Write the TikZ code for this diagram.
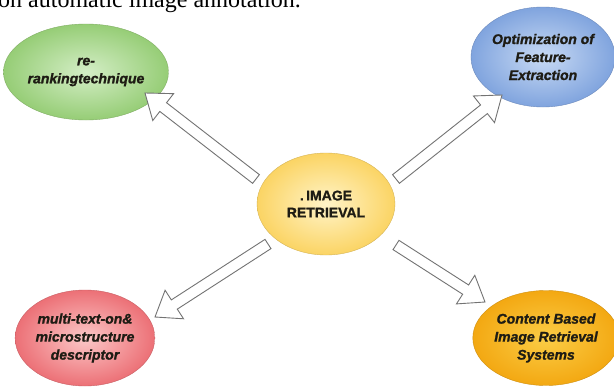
\documentclass[tikz,border=0pt]{standalone}
\usepackage{fontspec}
\setmainfont{Liberation Serif}
\newfontfamily\arialf[BoldFeatures={FakeBold=1.3},BoldItalicFeatures={FakeBold=1.3}]{Liberation Sans}
\usetikzlibrary{calc,shapes.geometric}
\definecolor{txtdark}{RGB}{30,28,20}
\definecolor{arrowgray}{RGB}{115,115,115}
\definecolor{gin}{RGB}{212,238,198}\definecolor{gout}{RGB}{150,205,118}
\definecolor{bin}{RGB}{200,218,244}\definecolor{bout}{RGB}{128,164,222}
\definecolor{yin}{RGB}{255,244,200}\definecolor{yout}{RGB}{251,212,100}
\definecolor{rin}{RGB}{252,200,200}\definecolor{rout}{RGB}{236,112,118}
\definecolor{oin}{RGB}{251,205,70}\definecolor{oout}{RGB}{243,168,18}
\tikzset{
  bubble/.style={ellipse, inner sep=0pt, align=center, text=txtdark,
    font=\arialf\bfseries\itshape\fontsize{14}{18}\selectfont},
  fatarrowline/.style={fill=white, draw=arrowgray, line width=0.9pt, line join=miter},
  toptext/.style={anchor=base west, inner sep=0pt, font=\fontsize{24}{28}\selectfont, text=black}
}
\newcommand\fatarrow[2]{%
  \coordinate (fah) at ($(#2)!23pt!(#1)$);
  \draw[fatarrowline] ($(#1)!5.5pt!90:(#2)$) -- ($(fah)!5.5pt!90:(#2)$)
    -- ($(fah)!17pt!90:(#2)$) -- (#2) -- ($(fah)!17pt!-90:(#2)$)
    -- ($(fah)!5.5pt!-90:(#2)$) -- ($(#1)!5.5pt!-90:(#2)$) -- cycle;}
\begin{document}
\begin{tikzpicture}[x=1pt,y=-1pt]
\useasboundingbox (0,0) rectangle (614,388);
\clip (0,0) rectangle (614,388);
\fill[white] (0,0) rectangle (614,388);
\node[toptext] (top) at (-2,7.5) {on automatic image annotation.};
% nodes
\node[bubble, minimum width=140pt, minimum height=96pt, inner color=gin, outer color=gout, draw=gout!85!black, line width=0.4pt] (g) at (86,72) {re-\\rankingtechnique};
\node[bubble, minimum width=137pt, minimum height=100pt, inner color=bin, outer color=bout, draw=bout!85!black, line width=0.4pt] (b) at (543,57) {Optimization of\\Feature-\\Extraction};
\node[bubble, minimum width=138pt, minimum height=102pt, inner color=yin, outer color=yout, draw=yout!85!black, line width=0.4pt, font=\arialf\bfseries\fontsize{14}{17}\selectfont] (c) at (326,204) {.\,IMAGE\\RETRIEVAL};
\node[bubble, minimum width=139pt, minimum height=96pt, inner color=rin, outer color=rout, draw=rout!85!black, line width=0.4pt] (r) at (85,338) {multi-text-on\&\\microstructure\\descriptor};
\node[bubble, minimum width=132pt, minimum height=95pt, inner color=oin, outer color=oout, draw=oout!85!black, line width=0.4pt] (o) at (546,338) {Content Based\\Image Retrieval\\Systems};
% arrow end points
\coordinate (s1) at ($(c.center)+(-70,-25)$);
\coordinate (t1) at ($(g.center)+(59,21)$);
\coordinate (s2) at ($(c.center)+(70,-25)$);
\coordinate (t2) at ($(b.center)+(-41,38)$);
\coordinate (s3) at ($(c.center)+(-58,40)$);
\coordinate (t3) at ($(r.center)+(70,-21)$);
\coordinate (s4) at ($(c.center)+(70,41)$);
\coordinate (t4) at ($(o.center)+(-61,-36)$);
\fatarrow{s1}{t1}
\fatarrow{s2}{t2}
\fatarrow{s3}{t3}
\fatarrow{s4}{t4}
\end{tikzpicture}
\end{document}
